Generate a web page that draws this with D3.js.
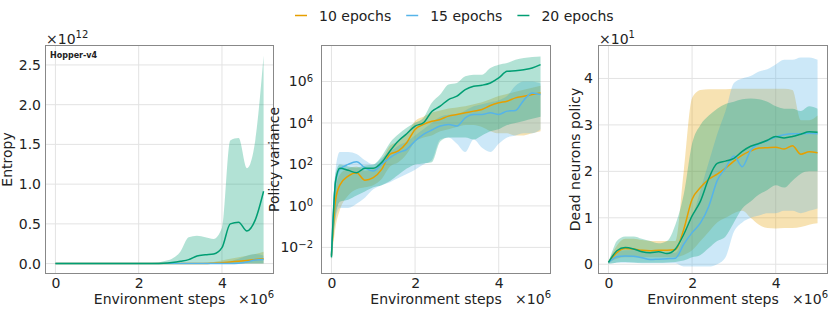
<!DOCTYPE html>
<html>
<head>
<meta charset="utf-8">
<script src="https://cdn.jsdelivr.net/npm/d3@7"></script>
<style>
  body { margin: 0; background: #fff; }
  text { font-family: "DejaVu Sans", sans-serif; fill: #222; }
</style>
</head>
<body>
<svg id="chart" width="831" height="310"></svg>
<script>
// environment steps (x 10^6)
const steps = [0, 0.1, 0.2, 0.4, 0.6, 0.8, 1.0, 1.2, 1.4, 1.6, 1.8, 2.0, 2.2, 2.4, 2.6, 2.8, 3.0, 3.2, 3.4, 3.6, 3.8, 4.0, 4.2, 4.4, 4.6, 4.8, 5.0];
const stepTicks = [0, 2, 4];

const seriesNames = ["10 epochs", "15 epochs", "20 epochs"];
const colors = ["#E69F00", "#56B4E9", "#009E73"];

// entropy (x 10^12)
const entropyMean10 = [0,0,0,0,0,0,0,0,0,0,0,0,0,0,0,0,0,0,0,0,0.005,0.01,0.02,0.03,0.04,0.05,0.06];
const entropyLo10   = [0,0,0,0,0,0,0,0,0,0,0,0,0,0,0,0,0,0,0,0,0,0,0,0,0,0,0];
const entropyHi10   = [0,0,0,0,0,0,0,0,0,0,0,0,0,0,0,0,0,0,0,0.01,0.02,0.04,0.06,0.08,0.1,0.12,0.15];
const entropyMean15 = [0,0,0,0,0,0,0,0,0,0,0,0,0,0,0,0,0,0,0,0,0,0,0,0.005,0.02,0.045,0.05];
const entropyLo15   = [0,0,0,0,0,0,0,0,0,0,0,0,0,0,0,0,0,0,0,0,0,0,0,0,0,0,0];
const entropyHi15   = [0,0,0,0,0,0,0,0,0,0,0,0,0,0,0,0,0,0,0,0,0,0.01,0.03,0.06,0.1,0.12,0.1];
const entropyMean20 = [0,0,0,0,0,0,0,0,0,0,0,0,0,0,0.005,0.015,0.03,0.05,0.095,0.11,0.12,0.2,0.5,0.52,0.41,0.55,0.91];
const entropyLo20   = [0,0,0,0,0,0,0,0,0,0,0,0,0,0,0,0,0,0,0,0,0,0,0,0,0,0,0];
const entropyHi20   = [0,0,0,0,0,0,0,0,0,0,0,0,0.005,0.01,0.03,0.06,0.15,0.33,0.35,0.33,0.31,0.45,1.55,1.58,1.2,1.55,2.62];
const entropyTicks = [0, 0.5, 1.0, 1.5, 2.0, 2.5];

// policy variance (log)
const varMean10 = [0.004, 2.0, 10, 27.5, 40, 17.4, 22.9, 57.5, 309, 447, 1120, 4900, 8510, 1.2e4, 1.48e4, 2.14e4, 2.57e4, 3.09e4, 3.72e4, 4.47e4, 6.92e4, 9.33e4, 1.12e5, 1.62e5, 1.95e5, 2.34e5, 2.82e5];
const varLo10   = [0.0025, 0.1, 0.63, 3.2, 6.3, 7.9, 10, 20, 79, 126, 316, 1260, 2000, 2510, 3980, 5010, 6310, 7940, 7940, 6310, 3980, 3160, 3160, 2510, 2510, 3160, 3980];
const varHi10   = [0.005, 6.3, 32, 63, 79, 50, 63, 158, 794, 1260, 3160, 1.26e4, 2.0e4, 3.16e4, 3.98e4, 5.01e4, 5.62e4, 6.31e4, 7.94e4, 1.0e5, 1.41e5, 2.0e5, 2.51e5, 3.16e5, 3.98e5, 5.01e5, 6.31e5];
const varMean15 = [0.004, 16, 58, 100, 135, 69, 48, 100, 214, 372, 537, 1350, 2820, 4570, 7080, 8510, 7080, 1.78e4, 2.57e4, 2.57e4, 3.09e4, 2.57e4, 3.72e4, 3.98e4, 1.26e5, 2.82e5, 2.34e5];
const varLo15   = [0.0025, 0.25, 0.79, 0.79, 1.26, 2.5, 6.3, 10, 14, 22, 35, 56, 100, 158, 1580, 2000, 1000, 398, 1580, 631, 398, 1000, 2000, 2510, 3160, 3160, 5010];
const varHi15   = [0.0063, 63, 398, 398, 316, 158, 100, 200, 398, 794, 1260, 2510, 5010, 1e4, 2e4, 2.51e4, 2.51e4, 3.98e4, 6.31e4, 7.94e4, 1e5, 1.26e5, 2e5, 6.31e5, 1e6, 1e6, 7.94e5];
const varMean20 = [0.0033, 16, 65, 52, 40, 65, 65, 123, 447, 1350, 3020, 7080, 1.02e4, 3.55e4, 6.46e4, 1.35e5, 1.95e5, 4.07e5, 5.89e5, 6.61e5, 8.51e5, 1.48e6, 3.09e6, 3.31e6, 3.72e6, 4.47e6, 6.46e6];
const varLo20   = [0.0025, 0.32, 1.6, 2.0, 3.2, 5.0, 7.9, 10, 16, 32, 63, 100, 112, 126, 1260, 2000, 2000, 2000, 1580, 2510, 3980, 5010, 7940, 1e4, 1.26e4, 1.58e4, 2.0e4];
const varHi20   = [0.005, 40, 100, 79, 71, 89, 100, 251, 1120, 2820, 5890, 1.02e4, 1.78e4, 9.33e4, 2.34e5, 7.08e5, 8.51e5, 1.78e6, 2.14e6, 2.14e6, 4.47e6, 6.46e6, 7.76e6, 1.12e7, 1.35e7, 1.51e7, 1.62e7];
const varTicks = [1e-2, 1e0, 1e2, 1e4, 1e6];

// dead neurons policy
const deadMean10 = [0.4, 1.5, 2.5, 3.4, 3.3, 3.0, 2.9, 3.0, 3.0, 3.1, 7.5, 14.0, 16.5, 18.3, 19.4, 20.7, 22.2, 23.5, 24.4, 25.0, 25.1, 25.2, 24.8, 25.5, 23.7, 24.2, 24.0];
const deadLo10   = [0.2, 0.8, 1.2, 1.5, 1.5, 1.5, 1.5, 1.5, 1.5, 1.5, 2.0, 3.0, 5.0, 7.0, 9.0, 10, 11, 11.5, 10, 8.5, 7.8, 7.7, 7.8, 7.8, 8.0, 8.5, 8.8];
const deadHi10   = [0.5, 2.5, 4.0, 5.5, 5.5, 5.2, 5.0, 5.0, 5.0, 5.0, 20, 35.8, 37.5, 37.7, 37.7, 37.7, 37.8, 37.8, 37.8, 37.8, 37.8, 37.8, 37.8, 37.5, 31, 31, 32];
const deadMean15 = [0.4, 1.1, 1.6, 1.8, 1.7, 1.4, 1.0, 1.1, 1.2, 1.3, 4.3, 6.8, 8.9, 12.5, 18.0, 20.7, 23.3, 21.0, 24.5, 26.0, 26.6, 27.4, 27.9, 28.1, 28.1, 28.2, 28.1];
const deadLo15   = [0.1, 0.2, 0.3, 0.3, 0.3, 0.2, 0.2, 0.2, 0.2, 0.2, -0.5, -0.5, -0.5, -0.5, 0, 1.5, 7, 9, 10, 10.5, 11, 11, 11.5, 11.5, 11, 11.5, 12];
const deadHi15   = [0.5, 1.8, 2.5, 3.0, 3.0, 2.8, 2.5, 2.5, 2.5, 2.5, 6, 10, 16, 22, 28, 33, 39, 40, 40.5, 41.5, 42, 43, 44, 44, 44.5, 44.5, 44];
const deadMean20 = [0.4, 1.8, 2.9, 3.6, 3.3, 2.7, 2.5, 2.7, 2.3, 3.3, 6.4, 10.4, 13.6, 18.5, 21.7, 22.2, 22.8, 24.3, 25.4, 26.0, 26.7, 27.5, 27.2, 27.5, 28.0, 28.5, 28.4];
const deadLo20   = [0.1, 0.2, 0.4, 0.5, 0.4, 0.3, 0.3, 0.3, 0.4, 0.5, 0.8, 1.5, 2.0, 3.5, 5.0, 6.0, 9.0, 12, 13.5, 15, 16, 17, 16.5, 18, 19.5, 20, 20];
const deadHi20   = [0.5, 3.0, 5.0, 6.0, 6.0, 5.5, 5.0, 4.5, 5.0, 8.5, 15, 26, 30, 32, 33.5, 34.5, 35, 35.5, 35.7, 35.5, 35, 34, 33.5, 33.5, 33, 34, 33.5];
const deadTicks = [0, 10, 20, 30, 40];

const svg = d3.select("#chart");
const plotTop = 45, plotBottom = 274;

const panels = [
  {left: 45, right: 274, label: "Entropy", labelX: 12, pad: 4,
   y: d3.scaleLinear().domain([-0.131, 2.751]), ticks: entropyTicks,
   fmt: d => [d3.format(".1f")(d), null], offset: "12", title: "Hopper-v4",
   data: [[entropyMean10, entropyLo10, entropyHi10], [entropyMean15, entropyLo15, entropyHi15], [entropyMean20, entropyLo20, entropyHi20]]},
  {left: 321, right: 551, label: "Policy variance", labelX: 279, pad: 8,
   y: d3.scaleLog().domain([5.2e-4, 5.75e7]), ticks: varTicks,
   fmt: d => ["10", String(Math.round(Math.log10(d))).replace("-", "\u2212")], offset: null,
   data: [[varMean10, varLo10, varHi10], [varMean15, varLo15, varHi15], [varMean20, varLo20, varHi20]]},
  {left: 598, right: 828, label: "Dead neurons policy", labelX: 580, pad: 5,
   y: d3.scaleLinear().domain([-2.1, 47.2]), ticks: deadTicks,
   fmt: d => [String(d / 10), null], offset: "1",
   data: [[deadMean10, deadLo10, deadHi10], [deadMean15, deadLo15, deadHi15], [deadMean20, deadLo20, deadHi20]]}
];

panels.forEach((p, pi) => {
  const x = d3.scaleLinear().domain([-0.25, 5.25]).range([p.left, p.right]);
  const y = p.y.range([plotBottom, plotTop]);
  const g = svg.append("g");

  // grid
  g.selectAll("line.gx").data(stepTicks).join("line")
    .attr("x1", d => x(d)).attr("x2", d => x(d))
    .attr("y1", plotTop).attr("y2", plotBottom)
    .attr("stroke", "#e3e3e3").attr("stroke-width", 1);
  g.selectAll("line.gy").data(p.ticks).join("line")
    .attr("x1", p.left).attr("x2", p.right)
    .attr("y1", d => y(d)).attr("y2", d => y(d))
    .attr("stroke", "#e3e3e3").attr("stroke-width", 1);

  const clipId = "clip" + pi;
  g.append("clipPath").attr("id", clipId).append("rect")
    .attr("x", p.left).attr("y", plotTop)
    .attr("width", p.right - p.left).attr("height", plotBottom - plotTop);

  const plot = g.append("g").attr("clip-path", "url(#" + clipId + ")");

  p.data.forEach((s, si) => {
    const area = d3.area()
      .x((d, i) => x(steps[i]))
      .y0((d, i) => y(s[1][i]))
      .y1((d, i) => y(s[2][i]))
      .curve(d3.curveMonotoneX);
    plot.append("path").datum(s[0])
      .attr("d", area)
      .attr("fill", colors[si])
      .attr("fill-opacity", 0.3);
  });

  p.data.forEach((s, si) => {
    const line = d3.line()
      .x((d, i) => x(steps[i]))
      .y(d => y(d))
      .curve(d3.curveMonotoneX);
    plot.append("path").datum(s[0])
      .attr("d", line)
      .attr("fill", "none")
      .attr("stroke", colors[si])
      .attr("stroke-width", 1.5);
  });

  // frame
  g.append("rect")
    .attr("x", p.left + 0.5).attr("y", plotTop + 0.5)
    .attr("width", p.right - p.left - 1).attr("height", plotBottom - plotTop - 1)
    .attr("fill", "none").attr("stroke", "#888").attr("stroke-width", 1);

  // axes
  const xAxis = g.append("g")
    .attr("transform", "translate(0," + plotBottom + ")")
    .call(d3.axisBottom(x).tickValues(stepTicks).tickSize(0).tickPadding(4).tickFormat(d3.format("d")));
  xAxis.select(".domain").remove();
  xAxis.selectAll("text").attr("font-size", 14).attr("fill", "#222");

  const yAxis = g.append("g")
    .attr("transform", "translate(" + p.left + ",0)")
    .call(d3.axisLeft(y).tickValues(p.ticks).tickSize(0).tickPadding(p.pad).tickFormat(""));
  yAxis.select(".domain").remove();
  yAxis.selectAll(".tick text").each(function(d) {
    const t = d3.select(this).attr("font-size", 14).attr("fill", "#222");
    const parts = p.fmt(d);
    t.append("tspan").text(parts[0]);
    if (parts[1] !== null) {
      t.append("tspan").attr("font-size", 10).attr("dy", "-0.45em").text(parts[1]);
    }
  });

  // axis labels
  g.append("text")
    .attr("transform", "translate(" + p.labelX + "," + ((plotTop + plotBottom) / 2) + ") rotate(-90)")
    .attr("text-anchor", "middle").attr("font-size", 14)
    .text(p.label);

  g.append("text")
    .attr("x", (p.left + p.right) / 2).attr("y", 304)
    .attr("text-anchor", "middle").attr("font-size", 14)
    .text("Environment steps");

  const xo = g.append("text")
    .attr("x", p.right).attr("y", 304)
    .attr("text-anchor", "end").attr("font-size", 14);
  xo.append("tspan").text("\u00d710");
  xo.append("tspan").attr("font-size", 10).attr("dy", -6).text("6");

  if (p.offset) {
    const yo = g.append("text")
      .attr("x", p.left + 1).attr("y", 43.5)
      .attr("font-size", 14);
    yo.append("tspan").text("\u00d710");
    yo.append("tspan").attr("font-size", 10).attr("dy", -6).text(p.offset);
  }

  if (p.title) {
    g.append("text")
      .attr("x", p.left + 5).attr("y", 57.5)
      .attr("font-size", 8).attr("font-weight", "bold")
      .text(p.title);
  }
});

// legend
const legend = svg.append("g");
let lx = 295;
seriesNames.forEach((name, i) => {
  legend.append("line")
    .attr("x1", lx).attr("x2", lx + 12)
    .attr("y1", 15.5).attr("y2", 15.5)
    .attr("stroke", colors[i]).attr("stroke-width", 1.5);
  const t = legend.append("text")
    .attr("x", lx + 24).attr("y", 20.5)
    .attr("font-size", 14)
    .text(name);
  lx += 24 + t.node().getComputedTextLength() + 15;
});
</script>
</body>
</html>
